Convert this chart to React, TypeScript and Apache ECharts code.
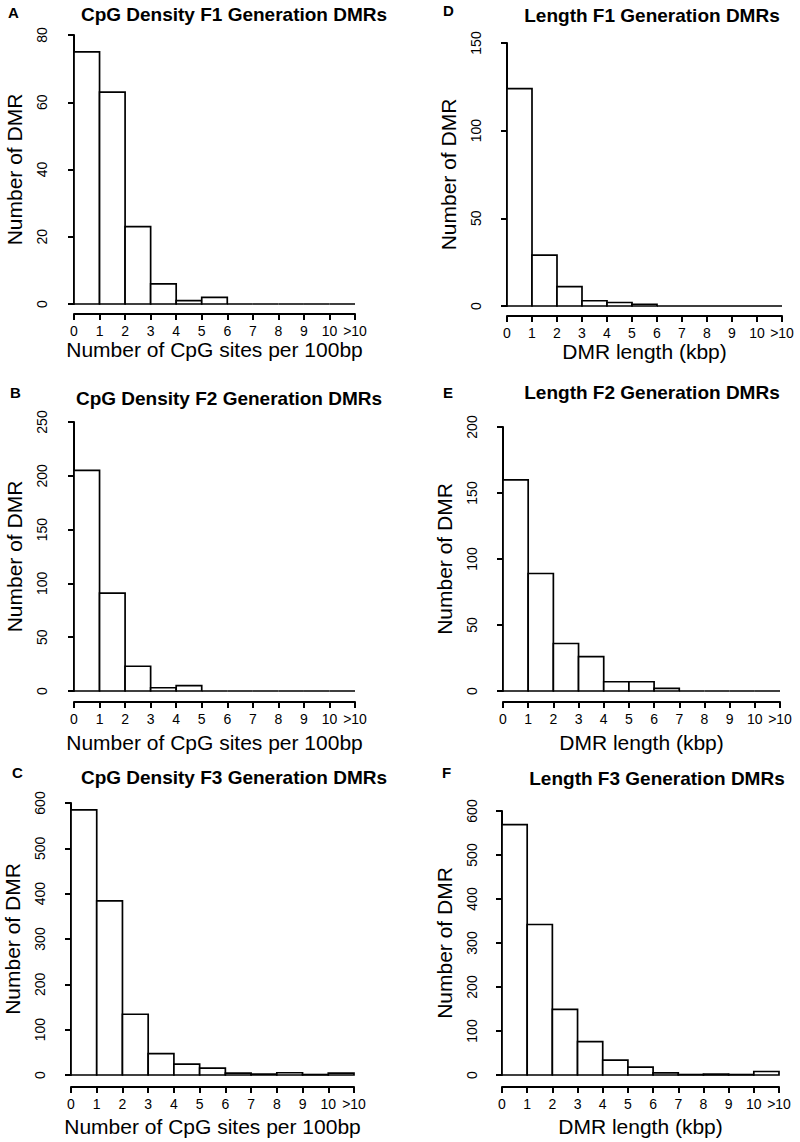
import React, { useEffect, useRef } from "react";
import * as echarts from "echarts";

// ---- data ----
const binLabels = ["0", "1", "2", "3", "4", "5", "6", "7", "8", "9", "10", ">10"];
const cpgF1 = [75, 63, 23, 6, 1, 2, 0, 0, 0, 0, 0];
const cpgF2 = [205, 91, 23, 3, 5, 0, 0, 0, 0, 0, 0];
const cpgF3 = [585, 384, 134, 47, 24, 15, 4, 2, 5, 1, 4];
const lenF1 = [124, 29, 11, 3, 2, 1, 0, 0, 0, 0, 0];
const lenF2 = [160, 89, 36, 26, 7, 7, 2, 0, 0, 0, 0];
const lenF3 = [569, 342, 149, 76, 34, 18, 5, 1, 2, 1, 8];
const yMaxes = [80, 250, 600, 150, 200, 600];
const yIntervals = [20, 50, 100, 50, 50, 100];
const titles = [
  "CpG Density F1 Generation DMRs",
  "CpG Density F2 Generation DMRs",
  "CpG Density F3 Generation DMRs",
  "Length F1 Generation DMRs",
  "Length F2 Generation DMRs",
  "Length F3 Generation DMRs",
];
const letters = ["A", "B", "C", "D", "E", "F"];
const xNames = [
  "Number of CpG sites per 100bp",
  "Number of CpG sites per 100bp",
  "Number of CpG sites per 100bp",
  "DMR length (kbp)",
  "DMR length (kbp)",
  "DMR length (kbp)",
];
const yName = "Number of DMR";
const seriesData = [cpgF1, cpgF2, cpgF3, lenF1, lenF2, lenF3];

// ---- layout (pixels) ----
const layout = [
  { left: 74, right: 355, top: 35, bottom: 304, yOff: 11, xOff: 10, nGap: 25, tx: 234, ty: 14, lx: 8, ly: 12 },
  { left: 74, right: 355, top: 422, bottom: 691, yOff: 11, xOff: 11, nGap: 30, tx: 229, ty: 398, lx: 10, ly: 392 },
  { left: 71, right: 354, top: 803, bottom: 1075, yOff: 10, xOff: 12, nGap: 29, tx: 234, ty: 777, lx: 12, ly: 772 },
  { left: 507, right: 782, top: 43, bottom: 306, yOff: 10, xOff: 10, nGap: 24, tx: 652, ty: 15, lx: 443, ly: 10 },
  { left: 503, right: 780, top: 427, bottom: 691, yOff: 10, xOff: 11, nGap: 30, tx: 652, ty: 392, lx: 443, ly: 392 },
  { left: 502, right: 779, top: 811, bottom: 1075, yOff: 9, xOff: 12, nGap: 29, tx: 657, ty: 778, lx: 442, ly: 772 },
];

const W = 800;
const H = 1142;
const FONT = "'Liberation Sans', Arial, Helvetica, sans-serif";

export default function App() {
  const ref = useRef<HTMLDivElement>(null);
  useEffect(() => {
    if (!ref.current) return;
    const chart = echarts.init(ref.current, undefined, { renderer: "svg", width: W, height: H });

    const grid = layout.map((l) => ({
      left: l.left,
      top: l.top,
      width: l.right - l.left,
      height: l.bottom - l.top,
      containLabel: false,
    }));

    const xAxis = layout.map((l, i) => ({
      type: "value",
      gridIndex: i,
      min: 0,
      max: 11,
      interval: 1,
      offset: l.xOff,
      name: xNames[i],
      nameLocation: "middle",
      nameGap: l.nGap,
      nameTextStyle: { fontFamily: FONT, fontSize: 21, color: "#000" },
      axisLine: { show: true, onZero: false, lineStyle: { color: "#000", width: 2 } },
      axisTick: { show: true, length: 6, lineStyle: { color: "#000", width: 2 } },
      axisLabel: {
        show: true,
        margin: 10,
        fontFamily: FONT,
        fontSize: 14,
        color: "#000",
        showMinLabel: true,
        showMaxLabel: true,
        formatter: (v: number) => binLabels[Math.round(v)] ?? "",
      },
      splitLine: { show: false },
    }));

    const yAxis = layout.map((l, i) => ({
      type: "value",
      gridIndex: i,
      min: 0,
      max: yMaxes[i],
      interval: yIntervals[i],
      offset: l.yOff,
      name: yName,
      nameLocation: "middle",
      nameRotate: 90,
      nameGap: 38,
      nameTextStyle: { fontFamily: FONT, fontSize: 21, color: "#000" },
      axisLine: { show: true, lineStyle: { color: "#000", width: 2 } },
      axisTick: { show: true, length: 6, lineStyle: { color: "#000", width: 2 } },
      axisLabel: {
        show: true,
        rotate: 90,
        margin: 14,
        fontFamily: FONT,
        fontSize: 14,
        color: "#000",
        showMinLabel: true,
        showMaxLabel: true,
      },
      splitLine: { show: false },
    }));

    const series = seriesData.map((vals, i) => ({
      type: "custom",
      xAxisIndex: i,
      yAxisIndex: i,
      clip: false,
      data: vals.map((v, k) => [k, v]),
      encode: { x: 0, y: 1 },
      renderItem: (params: any, api: any) => {
        const b = api.value(0);
        const v = api.value(1);
        const p0 = api.coord([b, 0]);
        const p1 = api.coord([b + 1, v]);
        return {
          type: "rect",
          shape: { x: p0[0], y: p1[1], width: p1[0] - p0[0], height: p0[1] - p1[1] },
          style: { fill: "#fff", stroke: "#000", lineWidth: 1.7 },
        };
      },
    }));

    const graphic: any[] = [];
    layout.forEach((l, i) => {
      graphic.push({
        type: "text",
        x: l.tx,
        y: l.ty,
        style: {
          text: titles[i],
          fontFamily: FONT,
          fontSize: 19,
          fontWeight: "bold",
          fill: "#000",
          align: "center",
          verticalAlign: "middle",
        },
      });
      graphic.push({
        type: "text",
        x: l.lx,
        y: l.ly,
        style: {
          text: letters[i],
          fontFamily: FONT,
          fontSize: 15,
          fontWeight: "bold",
          fill: "#000",
          align: "left",
          verticalAlign: "middle",
        },
      });
    });

    chart.setOption({
      animation: false,
      backgroundColor: "#fff",
      grid,
      xAxis,
      yAxis,
      series,
      graphic,
    });
    return () => chart.dispose();
  }, []);

  return (
    <div
      ref={ref}
      style={{ position: "absolute", left: 0, top: 0, width: W, height: H, background: "#fff" }}
    />
  );
}
